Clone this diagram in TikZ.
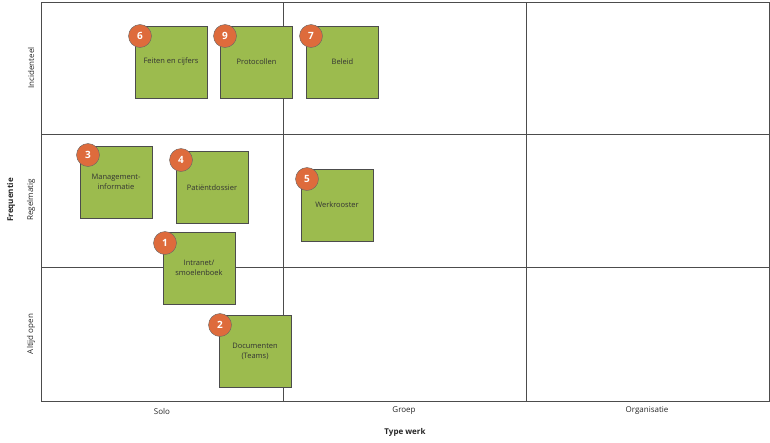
\documentclass[tikz,border=0pt]{standalone}
\usepackage{fontspec}
\setmainfont{Open Sans}
\definecolor{tilegreen}{HTML}{9CBB4E}
\definecolor{badgeorange}{HTML}{DE6B3C}
\tikzset{
  tile/.style={draw=black!70, fill=tilegreen, minimum width=72pt, minimum height=72pt,
    inner sep=0pt, align=center, font=\fontsize{7.5}{10}\selectfont, text=black!80},
  badge/.style={circle, draw=black!60, fill=badgeorange, minimum size=23pt, inner sep=0pt,
    text=white, font=\bfseries\fontsize{10}{12}\selectfont},
  grid/.style={draw=black!70, line width=0.5pt},
  axislabel/.style={font=\fontsize{8}{10}\selectfont, text=black!85},
}
\begin{document}
\begin{tikzpicture}[x=1pt, y=-1pt]
\useasboundingbox (0,0) rectangle (770,442);
% raster
\draw[grid] (41,2) -- (41,401) -- (769,401) -- (769,2) -- cycle;
\draw[grid] (283,2) -- (283,401);
\draw[grid] (526,2) -- (526,401);
\draw[grid] (41,134) -- (769,134);
\draw[grid] (41,267) -- (769,267);
% assen
\node[axislabel] (solo) at (162,411) {Solo};
\node[axislabel] (groep) at (404,411) {Groep};
\node[axislabel] (org) at (647,411) {Organisatie};
\node[axislabel, font=\bfseries\fontsize{8}{10}\selectfont] (xtitel) at (405,432) {Type werk};
\node[axislabel, rotate=90] (inc) at (31,68) {Incidenteel};
\node[axislabel, rotate=90] (reg) at (31,200) {Regelmatig};
\node[axislabel, rotate=90] (alt) at (31,334) {Altijd open};
\node[axislabel, rotate=90, font=\bfseries\fontsize{8}{10}\selectfont] (ytitel) at (11,200) {Frequentie};
% tegels
\node[tile] (feiten) at (171,62) {Feiten en cijfers};
\node[tile] (proto) at (256.5,62) {Protocollen};
\node[tile] (beleid) at (342.5,62) {Beleid};
\node[tile] (mgmt) at (116,182) {Management-\\informatie};
\node[tile] (patient) at (212,187.5) {Patiëntdossier};
\node[tile] (rooster) at (337,205) {Werkrooster};
\node[tile] (intranet) at (199,268) {Intranet/\\smoelenboek};
\node[tile] (docs) at (255,351) {Documenten\\(Teams)};
% nummers
\node[badge] (b6) at (140,36) {6};
\node[badge] (b9) at (225,36) {9};
\node[badge] (b7) at (311,36) {7};
\node[badge] (b3) at (88,155) {3};
\node[badge] (b4) at (181,160) {4};
\node[badge] (b5) at (307,179) {5};
\node[badge] (b1) at (165,243) {1};
\node[badge] (b2) at (220,325) {2};
\end{tikzpicture}
\end{document}
